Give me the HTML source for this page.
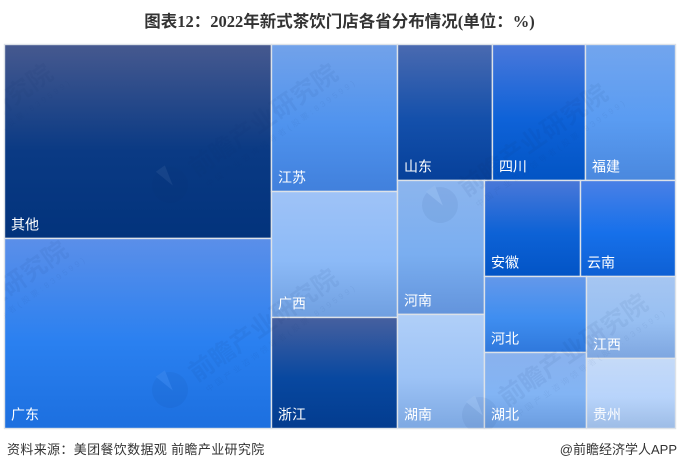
<!DOCTYPE html>
<html lang="zh">
<head>
<meta charset="utf-8">
<title>图表12：2022年新式茶饮门店各省分布情况</title>
<style>
html,body{margin:0;padding:0;background:#fff;}
body{width:678px;height:470px;overflow:hidden;}
svg{display:block;}
text{font-family:"Liberation Sans","Noto Sans CJK SC",sans-serif;}
</style>
</head>
<body>
<svg id="chart" xmlns="http://www.w3.org/2000/svg" width="678" height="470" viewBox="0 0 678 470">
  <defs id="defs"><clipPath id="plot-clip"><rect x="4.5" y="44.5" width="671" height="384"></rect></clipPath></defs>
  <text x="339.5" y="27" text-anchor="middle" font-size="16.5" font-weight="700" fill="#333" style="font-family:'Liberation Serif','Noto Sans CJK SC',sans-serif">图表12：2022年新式茶饮门店各省分布情况(单位：%)</text>
  <g id="cells"></g>
  <g id="marks" clip-path="url(#plot-clip)"></g>
  <g id="labels"></g>
  <text x="7" y="454" font-size="13" letter-spacing="0.35" fill="#333">资料来源：美团餐饮数据观 前瞻产业研究院</text>
  <text x="677" y="454" text-anchor="end" font-size="13" fill="#333">@前瞻经济学人APP</text>
</svg>
<script>
const categories = ['其他','广东','江苏','广西','浙江','山东','四川','福建','河南','湖南','安徽','云南','河北','湖北','江西','贵州'];
const shares = [20.10,19.69,7.19,6.16,5.43,5.01,4.91,4.75,4.52,3.85,3.58,3.54,3.01,3.01,2.83,2.42];
const topColors = ['#46598f','#5b8fe9','#72a2ea','#9fc3f7','#46609f','#4a6ab0','#4a78da','#72a5ee','#8cb5ee','#b0cff8','#4a78d8','#4a80e6','#6498ea','#8ab2ee','#a6c6f2','#c5daf8'];
const midColors = ['#0a3a84','#2a80f0','#4f93ee','#8cbaf7','#0848a0','#1450ab','#0e62d8','#5a9cf2','#7aaef0','#9dc3f6','#0d62d6','#1670ea','#3f8ef0','#82b4f4','#97bff2','#b8d4fb'];
const bottomColors = ['#02337c','#1c6fdf','#4180dc','#6f9fe0','#033c8f','#06409a','#0254c4','#4a88de','#6394dc','#7da8e2','#0254c6','#0e60d4','#2f78dc','#6a9cdf','#7ea6e0','#9dbce6'];
const treeShape = {d:'h',c:[
  {d:'v',c:[0,1]},
  {d:'v',c:[2,3,4]},
  {d:'v',c:[
    {d:'h',c:[5,6,7]},
    {d:'h',c:[
      {d:'v',c:[8,9]},
      {d:'v',c:[
        {d:'h',c:[10,11]},
        {d:'h',c:[{d:'v',c:[12,13]},{d:'v',c:[14,15]}]}
      ]}
    ]}
  ]}
]};
const watermarkAnchors = [[-115,185],[-100,362],[170,185],[170,390],[440,205],[480,415]];

const NS = 'http://www.w3.org/2000/svg';
const plot = {x:4.5,y:44.5,w:671,h:384};
function make(tag, attrs, parent){
  const el = document.createElementNS(NS, tag);
  for (const k in attrs) el.setAttribute(k, attrs[k]);
  parent.appendChild(el);
  return el;
}
function total(n){
  return typeof n === 'number' ? shares[n] : n.c.reduce((s,k)=>s+total(k),0);
}
function layout(n, x, y, w, h, out){
  if (typeof n === 'number'){ out.push({i:n,x,y,w,h}); return; }
  const sum = total(n);
  let pos = 0;
  n.c.forEach(k=>{
    const f = total(k)/sum;
    if (n.d === 'h') layout(k, x+pos*w, y, w*f, h, out);
    else layout(k, x, y+pos*h, w, h*f, out);
    pos += f;
  });
}
const rects = [];
layout(treeShape, plot.x, plot.y, plot.w, plot.h, rects);
const defs = document.getElementById('defs');
const cellsG = document.getElementById('cells');
const labelsG = document.getElementById('labels');
rects.forEach(r=>{
  const grad = make('linearGradient',{id:'g'+r.i,x1:0,y1:0,x2:0,y2:1},defs);
  make('stop',{offset:'0','stop-color':topColors[r.i]},grad);
  make('stop',{offset:'0.55','stop-color':midColors[r.i]},grad);
  make('stop',{offset:'1','stop-color':bottomColors[r.i]},grad);
  const cell = make('rect',{x:r.x,y:r.y,width:r.w,height:r.h,fill:'url(#g'+r.i+')',stroke:'#dde2e8','stroke-width':1.4},cellsG);
  
  
  const t = make('text',{x:r.x+6.5,y:r.y+r.h-9,'font-size':14,fill:'#fff'},labelsG);
  t.textContent = categories[r.i];
  
  
});
const marksG = document.getElementById('marks');
watermarkAnchors.forEach(a=>{
  const g = make('g',{transform:'translate('+a[0]+' '+a[1]+') rotate(-35)',opacity:0.055},marksG);
  
  
  make('circle',{cx:0,cy:0,r:18,fill:'#0b2a66'},g);
  make('path',{d:'M-4 -19 L2 2 L7 -19 Z',fill:'#ffffff'},g);
  const t1 = make('text',{x:26,y:9,'font-size':25,'font-weight':700,fill:'#0b2a66'},g);
  t1.textContent = '前瞻产业研究院';
  const t2 = make('text',{x:30,y:24,'font-size':8,'letter-spacing':3,fill:'#0b2a66'},g);
  t2.textContent = '中国产业咨询领导者(股票:839599)';
});
</script>
</body>
</html>
